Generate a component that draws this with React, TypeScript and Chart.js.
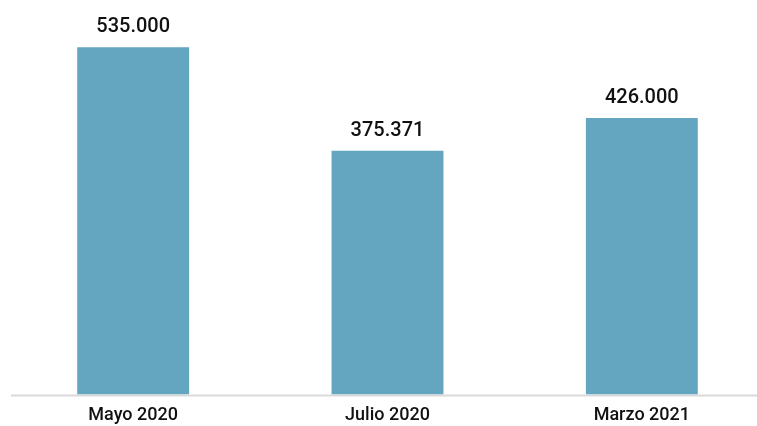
import React, { useEffect, useRef } from "react";
import { Chart, registerables } from "chart.js";

Chart.register(...registerables);

const categories = ["Mayo 2020", "Julio 2020", "Marzo 2021"];
const values = [535000, 375371, 426000];
const valueLabels = ["535.000", "375.371", "426.000"];

const barColor = "#64A5C0";

export default function App() {
  const ref = useRef<HTMLCanvasElement | null>(null);

  useEffect(() => {
    document.body.style.margin = "0";
    document.body.style.overflow = "hidden";
    const ctx = ref.current!.getContext("2d")!;
    const labelPlugin = {
      id: "labels",
      afterDatasetsDraw(chart: any) {
        const c = chart.ctx;
        const meta = chart.getDatasetMeta(0);
        c.save();
        c.font = "500 20px Roboto";
        c.fillStyle = "#111";
        c.textAlign = "center";
        c.textBaseline = "middle";
        meta.data.forEach((bar: any, i: number) => {
          c.fillText(valueLabels[i], bar.x, bar.y - 20);
        });
        c.restore();
      },
      beforeDatasetsDraw(chart: any) {
        const c = chart.ctx;
        const y = chart.scales.y.getPixelForValue(0);
        c.save();
        c.strokeStyle = "#d9d9d9";
        c.lineWidth = 2;
        c.beginPath();
        c.moveTo(11, y + 1);
        c.lineTo(757, y + 1);
        c.stroke();
        c.restore();
      },
    };
    const chart = new Chart(ctx, {
      type: "bar",
      data: {
        labels: categories,
        datasets: [
          {
            data: values,
            backgroundColor: barColor,
            barPercentage: 0.44,
            categoryPercentage: 1,
          },
        ],
      },
      options: {
        animation: false,
        responsive: false,
        maintainAspectRatio: false,
        layout: { padding: { left: 6, right: 11, top: 5, bottom: 4 } },
        plugins: { legend: { display: false }, tooltip: { enabled: false } },
        scales: {
          x: {
            grid: { display: false, drawTicks: false },
            border: { display: false },
            ticks: {
              padding: 10,
              color: "#111",
              font: { family: "Roboto", size: 18, weight: "500", lineHeight: 1.2 },
            },
          },
          y: {
            display: false,
            min: 0,
            max: 600000,
          },
        },
      },
      plugins: [labelPlugin],
    });
    return () => chart.destroy();
  }, []);

  return (
    <div style={{ position: "fixed", left: 0, top: 0, width: 780, height: 440, overflow: "hidden", background: "#fff" }}>
      <canvas ref={ref} width={780} height={440} style={{ width: 780, height: 440 }} />
    </div>
  );
}
